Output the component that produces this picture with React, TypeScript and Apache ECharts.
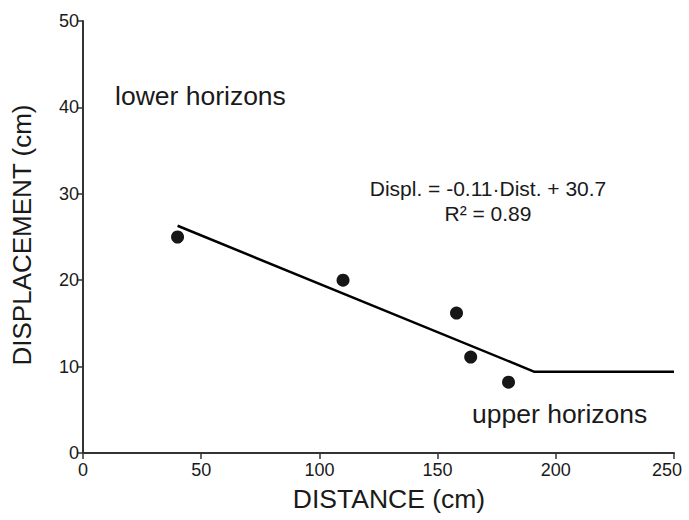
import React, { useEffect, useRef } from "react";
import * as echarts from "echarts";

const pointsX = [40, 110, 158, 164, 180];
const pointsY = [25, 20, 16.2, 11.1, 8.2];
const fitX = [40, 191, 250];
const fitY = [26.3, 9.4, 9.4];
const xTicks = [0, 250, 50];
const yTicks = [0, 50, 10];
const equationText = "Displ. = -0.11·Dist. + 30.7";
const r2Text = "R² = 0.89";
const lowerLabel = "lower horizons";
const upperLabel = "upper horizons";
const xTitle = "DISTANCE (cm)";
const yTitle = "DISPLACEMENT (cm)";

const FONT = "'Liberation Sans', Arial, Helvetica, sans-serif";
const TXT = "#1a1a1a";
const AX = "#333333";

export default function App() {
  const ref = useRef<HTMLDivElement>(null);
  useEffect(() => {
    if (!ref.current) return;
    const chart = echarts.init(ref.current, undefined, { renderer: "svg" });
    const labelBase = { color: TXT, fontSize: 18, fontFamily: FONT };
    const axisCommon = {
      type: "value" as const,
      axisLine: { show: true, onZero: false, lineStyle: { color: AX, width: 2 } },
      axisTick: { show: true, length: 6, lineStyle: { color: AX, width: 1.5 } },
      splitLine: { show: false },
    };
    chart.setOption({
      animation: false,
      backgroundColor: "#ffffff",
      grid: { left: 83, right: 15, top: 21, bottom: 67, containLabel: false },
      xAxis: {
        ...axisCommon,
        min: xTicks[0],
        max: xTicks[1],
        interval: xTicks[2],
        axisLabel: {
          ...labelBase,
          margin: 8,
          formatter: (v: number) => (v === xTicks[1] ? `{r|${v}}` : `${v}`),
          rich: { r: { ...labelBase, padding: [0, 14, 0, 0] } },
        },
      },
      yAxis: {
        ...axisCommon,
        min: yTicks[0],
        max: yTicks[1],
        interval: yTicks[2],
        axisLabel: { ...labelBase, margin: 4 },
      },
      series: [
        {
          type: "line",
          data: fitX.map((x, i) => [x, fitY[i]]),
          showSymbol: false,
          symbol: "none",
          lineStyle: { color: "#000", width: 2.5 },
          z: 2,
        },
        {
          type: "scatter",
          data: pointsX.map((x, i) => [x, pointsY[i]]),
          symbol: "circle",
          symbolSize: 13,
          itemStyle: { color: "#161616", opacity: 1 },
          z: 3,
        },
      ],
      graphic: [
        {
          type: "text",
          x: 115,
          y: 96,
          style: { text: lowerLabel, font: `26.5px ${FONT}`, fill: TXT, textVerticalAlign: "middle" },
        },
        {
          type: "text",
          x: 472,
          y: 414,
          style: { text: upperLabel, font: `26.5px ${FONT}`, fill: TXT, textVerticalAlign: "middle" },
        },
        {
          type: "text",
          x: 488,
          y: 188,
          style: { text: equationText, font: `21px ${FONT}`, fill: TXT, textAlign: "center", textVerticalAlign: "middle" },
        },
        {
          type: "text",
          x: 488,
          y: 213,
          style: { text: r2Text, font: `21px ${FONT}`, fill: TXT, textAlign: "center", textVerticalAlign: "middle" },
        },
        {
          type: "text",
          x: 389,
          y: 499,
          style: { text: xTitle, font: `26.5px ${FONT}`, fill: TXT, textAlign: "center", textVerticalAlign: "middle" },
        },
        {
          type: "text",
          x: 22,
          y: 235,
          rotation: Math.PI / 2,
          style: { text: yTitle, font: `26px ${FONT}`, fill: TXT, textAlign: "center", textVerticalAlign: "middle" },
        },
      ],
    });
    return () => chart.dispose();
  }, []);
  return (
    <div
      ref={ref}
      style={{ width: 689, height: 520, position: "absolute", left: 0, top: 0 }}
    />
  );
}
